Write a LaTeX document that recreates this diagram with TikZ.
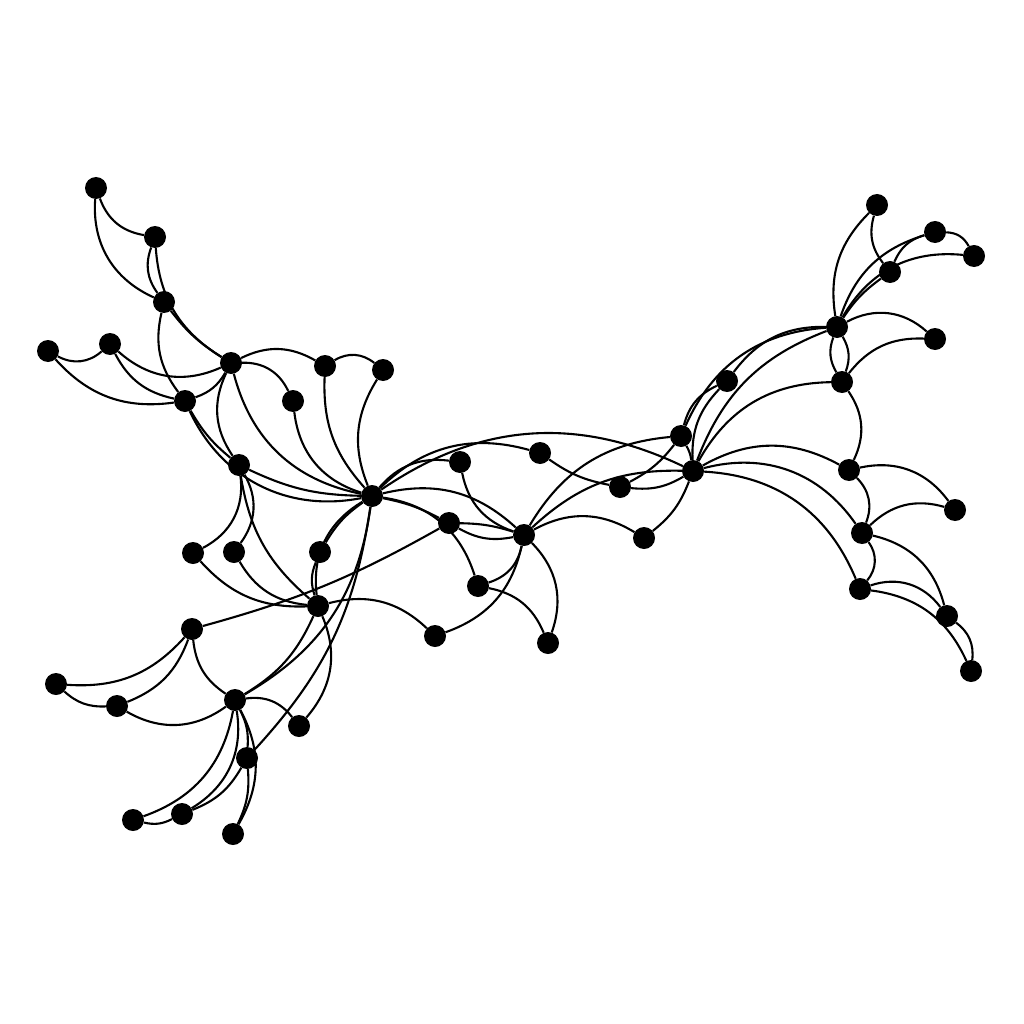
\documentclass[tikz,border=0pt]{standalone}
\begin{document}
\begin{tikzpicture}[x=1pt,y=-1pt,
  dot/.style={circle,fill=black,inner sep=0pt,minimum size=22pt},
  edge/.style={line width=2.1pt,black}]
\useasboundingbox (0,0) rectangle (1024,1024);
\foreach \n/\x/\y in {1/96/188,2/155/237,3/164/302,4/48/351,5/110/344,6/231/363,7/185/401,8/325/366,9/383/370,10/293/401,
11/239/465,12/372/496,13/460/462,14/540/453,15/449/523,16/524/535,17/620/487,18/644/538,19/681/436,20/693/471,
21/727/381,22/193/553,23/234/552,24/320/552,25/318/606,26/478/586,27/548/643,28/435/636,29/192/629,30/56/684,
31/117/706,32/235/700,33/299/726,34/247/758,35/133/820,36/182/814,37/233/834,38/877/205,39/935/232,40/974/256,
41/890/272,42/837/327,43/935/339,44/842/382,45/849/470,46/955/510,47/862/533,48/860/589,49/947/616,50/971/671}
  \node[dot] (n\n) at (\x,\y) {};
\foreach \a/\b/\s in {
1/2/-30, 1/3/-35, 2/3/-28, 2/6/-27, 3/6/-10, 3/7/-25,
4/5/-35, 4/7/-28, 5/6/-33, 5/7/-25, 6/7/20, 6/8/28,
6/10/33, 6/11/-30, 6/12/-32, 8/9/35, 8/12/-22, 9/12/-27,
10/12/-33, 7/11/-10, 11/12/-12, 7/12/-38, 11/22/35, 11/23/33,
11/25/-20, 22/25/-25, 23/25/-27, 24/12/12, 25/12/33, 24/25/-20,
12/13/28, 12/14/30, 12/20/30, 12/15/8, 12/16/28, 12/26/32,
15/16/8, 15/16/-20, 29/15/-7, 13/16/-30, 14/17/-12, 16/19/27, 16/20/22,
16/18/30, 17/20/-18, 19/17/12, 20/18/15, 42/21/-27, 42/19/-31,
42/20/-24, 21/19/-25, 21/20/-23, 19/20/10, 29/30/26, 29/31/24,
29/32/-25, 30/31/-22, 31/32/-33, 32/33/30, 32/35/30, 32/36/34,
32/37/29, 32/34/15, 34/37/15, 34/36/19, 35/36/-20, 32/25/-17,
32/12/-26, 12/34/17, 25/33/32, 38/42/-27, 38/41/-27, 39/40/30,
39/42/-27, 39/41/-25, 40/42/-33, 41/42/-10, 42/43/35, 42/44/-25,
42/44/25, 44/43/27, 44/45/30, 44/20/-30, 20/45/29, 20/47/35,
20/48/32, 45/46/33, 45/47/33, 46/47/-30, 47/48/38, 47/49/31,
48/49/36, 48/50/29, 49/50/30, 25/28/29, 16/28/29, 16/26/30,
16/27/32, 26/27/28}
  \draw[edge] (n\a) to[bend left=\s] (n\b);
\end{tikzpicture}
\end{document}
